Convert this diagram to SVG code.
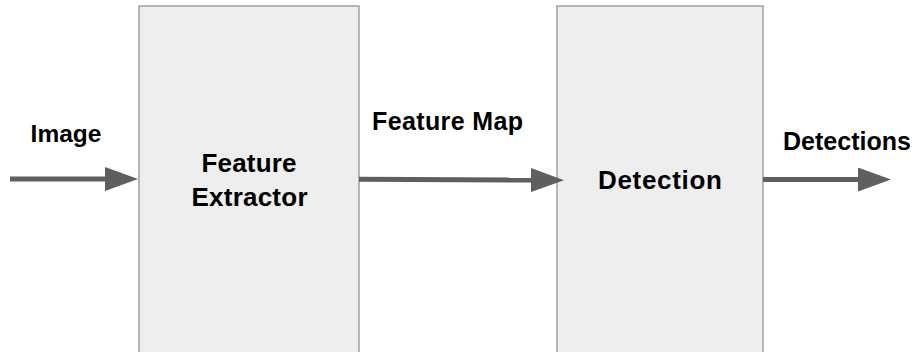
<svg xmlns="http://www.w3.org/2000/svg" width="915" height="352" viewBox="0 0 915 352">
  <style>
    .box { fill: #eeeeee; stroke: #9a9a9a; stroke-width: 1.4; }
    .lbl { font-family: "Liberation Sans", Arial, sans-serif; font-weight: bold; fill: #000000; }
    .edge { stroke: #5f5f5f; stroke-width: 5; fill: none; }
  </style>
  <defs>
    <marker id="head" markerUnits="userSpaceOnUse" markerWidth="34" markerHeight="24" refX="0" refY="12" orient="auto" viewBox="0 0 34 24">
      <path d="M0,0 L33,12 L0,24 Z" fill="#5f5f5f"/>
    </marker>
  </defs>
  <rect width="915" height="352" fill="#ffffff"/>
  <g id="feature-extractor">
    <rect class="box" x="139" y="6" width="220" height="352"/>
    <text class="lbl" x="249" y="172" font-size="26" text-anchor="middle" textLength="95" lengthAdjust="spacing">Feature</text>
    <text class="lbl" x="249.5" y="206" font-size="26" text-anchor="middle" textLength="116" lengthAdjust="spacing">Extractor</text>
  </g>
  <g id="detection">
    <rect class="box" x="557" y="6" width="206" height="352"/>
    <text class="lbl" x="660" y="188.5" font-size="26" text-anchor="middle" textLength="124" lengthAdjust="spacing">Detection</text>
  </g>
  <g id="connectors">
    <line class="edge" x1="10" y1="179" x2="105" y2="179" marker-end="url(#head)"/>
    <line class="edge" x1="359" y1="179.3" x2="531" y2="180" marker-end="url(#head)"/>
    <line class="edge" x1="763" y1="179.5" x2="858" y2="179.5" marker-end="url(#head)"/>
    <text class="lbl" x="66" y="142" font-size="24.5" text-anchor="middle">Image</text>
    <text class="lbl" x="372" y="129.5" font-size="25" textLength="151" lengthAdjust="spacing">Feature Map</text>
    <text class="lbl" x="783" y="150" font-size="25" textLength="128" lengthAdjust="spacing">Detections</text>
  </g>
</svg>
